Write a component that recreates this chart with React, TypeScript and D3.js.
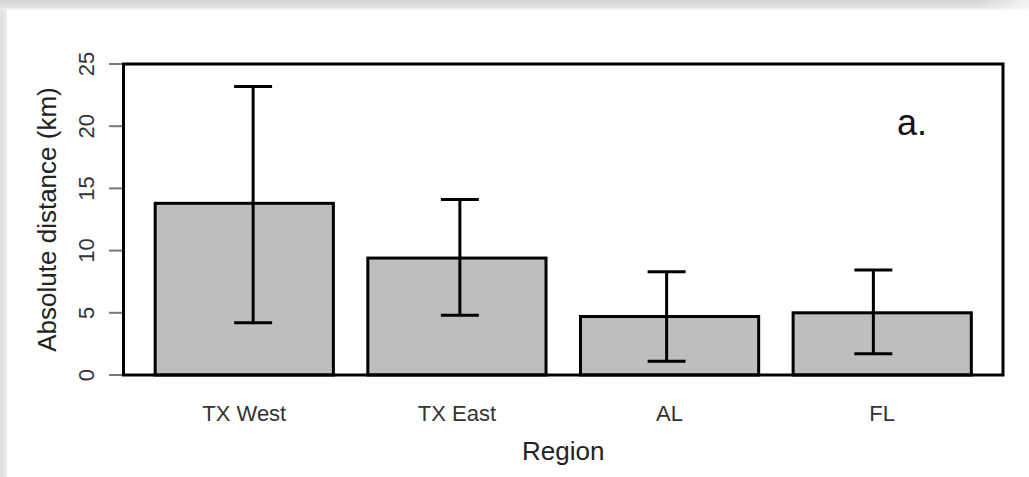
import React from "react";
import * as d3 from "d3";

const regions = ["TX West", "TX East", "AL", "FL"];
const meanDist = [13.8, 9.4, 4.7, 5.0];
const upperDist = [23.2, 14.1, 8.3, 8.45];
const lowerDist = [4.2, 4.8, 1.1, 1.7];
const yTicks = [0, 5, 10, 15, 20, 25];

const W = 1029;
const H = 477;
const plot = { left: 123.5, right: 1003, top: 64, bottom: 375 };

export default function App() {
  const x = d3
    .scaleBand<string>()
    .domain(regions)
    .range([plot.left, plot.right])
    .paddingInner(0.162)
    .paddingOuter(0.149);
  const xErr = d3
    .scalePoint<string>()
    .domain(regions)
    .range([plot.left, plot.right])
    .padding(0.627);
  const y = d3.scaleLinear().domain([0, 25]).range([plot.bottom, plot.top]);
  const capHalf = 19;
  const font = "'Liberation Sans', Arial, Helvetica, sans-serif";

  return (
    <svg
      width={W}
      height={H}
      style={{ position: "absolute", left: 0, top: 0, background: "#fff" }}
      fontFamily={font}
    >
      <defs>
        <linearGradient id="topShade" x1="0" y1="0" x2="0" y2="1">
          <stop offset="0" stopColor="#d4d4d4" />
          <stop offset="0.7" stopColor="#e2e2e2" />
          <stop offset="1" stopColor="#f4f4f4" />
        </linearGradient>
        <linearGradient id="topFade" x1="0" y1="0" x2="1" y2="0">
          <stop offset="0.95" stopColor="#fff" stopOpacity={0} />
          <stop offset="1" stopColor="#fff" stopOpacity={0.7} />
        </linearGradient>
        <linearGradient id="leftShade" x1="0" y1="0" x2="1" y2="0">
          <stop offset="0" stopColor="#e0e0e0" />
          <stop offset="1" stopColor="#ececec" />
        </linearGradient>
      </defs>
      <rect x={0} y={0} width={W} height={H} fill="#fff" />
      <rect x={0} y={0} width={7} height={H} fill="url(#leftShade)" />
      <rect x={0} y={0} width={W} height={10} fill="url(#topShade)" />
      <rect x={0} y={0} width={W} height={10} fill="url(#topFade)" />

      {/* bars */}
      {regions.map((r, i) => (
        <rect
          key={r}
          x={x(r)!}
          y={y(meanDist[i])}
          width={x.bandwidth()}
          height={y(0) - y(meanDist[i])}
          fill="#bebebe"
          stroke="#000"
          strokeWidth={3}
        />
      ))}

      {/* error bars */}
      {regions.map((r, i) => {
        const cx = xErr(r)!;
        return (
          <g key={"e" + r} stroke="#000" strokeWidth={3}>
            <line x1={cx} x2={cx} y1={y(upperDist[i])} y2={y(lowerDist[i])} />
            <line x1={cx - capHalf} x2={cx + capHalf} y1={y(upperDist[i])} y2={y(upperDist[i])} />
            <line x1={cx - capHalf} x2={cx + capHalf} y1={y(lowerDist[i])} y2={y(lowerDist[i])} />
          </g>
        );
      })}

      {/* box */}
      <rect
        x={plot.left}
        y={plot.top}
        width={plot.right - plot.left}
        height={plot.bottom - plot.top}
        fill="none"
        stroke="#000"
        strokeWidth={3}
      />

      {/* y axis ticks */}
      {yTicks.map((t) => (
        <g key={"t" + t}>
          <line x1={109} x2={plot.left - 1.5} y1={y(t)} y2={y(t)} stroke="#777" strokeWidth={2} />
          <text
            transform={`translate(94,${y(t)}) rotate(-90)`}
            textAnchor="middle"
            fontSize={22}
            fill="#333"
          >
            {t}
          </text>
        </g>
      ))}

      {/* x tick labels */}
      {regions.map((r) => (
        <text
          key={"l" + r}
          x={x(r)! + x.bandwidth() / 2}
          y={421}
          textAnchor="middle"
          fontSize={22}
          fill="#333"
        >
          {r}
        </text>
      ))}

      {/* axis titles */}
      <text x={(plot.left + plot.right) / 2} y={460} textAnchor="middle" fontSize={26} fill="#222">
        Region
      </text>
      <text
        transform={`translate(56,${(plot.top + plot.bottom) / 2}) rotate(-90)`}
        textAnchor="middle"
        fontSize={26}
        fill="#222"
      >
        Absolute distance (km)
      </text>

      {/* panel label */}
      <text x={897} y={135} fontSize={36} fill="#111">
        a.
      </text>
    </svg>
  );
}
